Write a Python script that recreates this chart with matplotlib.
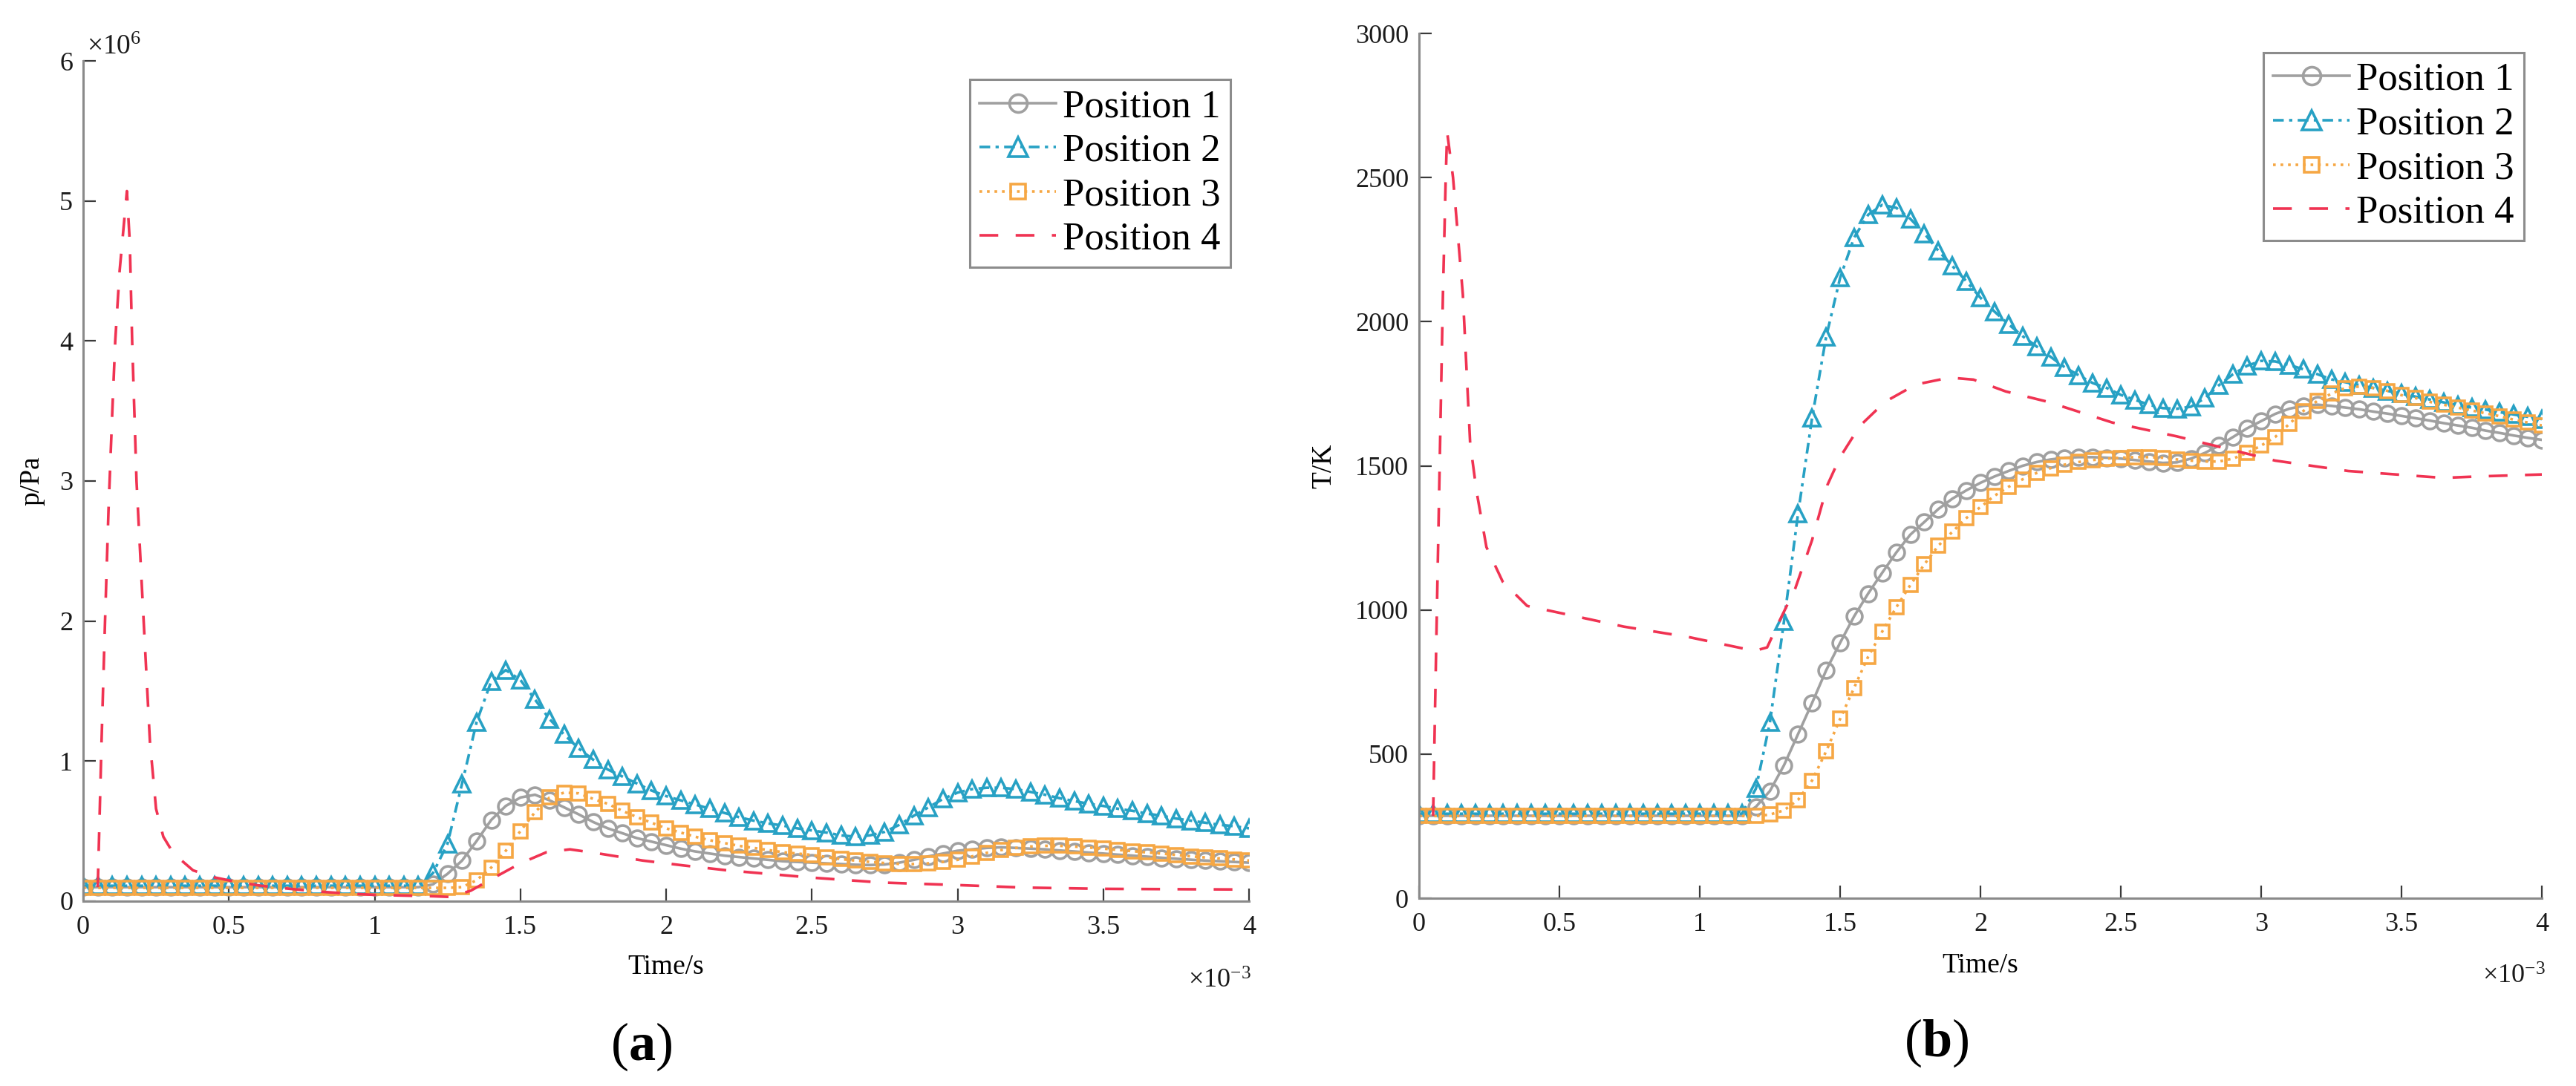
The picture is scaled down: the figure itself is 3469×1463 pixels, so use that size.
import numpy as np
import matplotlib
matplotlib.use("Agg")
import matplotlib.pyplot as plt
from matplotlib.ticker import FixedLocator, FuncFormatter

plt.rcParams['font.family'] = ['Liberation Serif', 'DejaVu Serif']
plt.rcParams['mathtext.fontset'] = 'custom'
plt.rcParams['mathtext.rm'] = 'Liberation Serif'
plt.rcParams['mathtext.bf'] = 'Liberation Serif:bold'
plt.rcParams['mathtext.it'] = 'Liberation Serif:italic'

# common time grid for positions 1-3, in units of 1e-3 s
time_ms = np.round(np.arange(0, 81) * 0.05, 3)

# ---- (a) pressure, units of 1e6 Pa ----
p_pos1 = [0.10] * 24 + [
    0.12, 0.195, 0.29, 0.43, 0.58, 0.68, 0.74, 0.76, 0.72, 0.67,
    0.62, 0.565, 0.52, 0.485, 0.45, 0.425, 0.40, 0.375, 0.355, 0.34,
    0.325, 0.315, 0.305, 0.295, 0.285, 0.28, 0.275, 0.27, 0.265, 0.26,
    0.258, 0.262, 0.275, 0.295, 0.32, 0.34, 0.36, 0.37, 0.38, 0.385,
    0.38, 0.375, 0.37, 0.362, 0.355, 0.347, 0.34, 0.332, 0.325, 0.318,
    0.31, 0.303, 0.296, 0.29, 0.285, 0.28, 0.275]
p_pos2 = [0.11] * 24 + [
    0.20, 0.41, 0.84, 1.28, 1.57, 1.65, 1.58, 1.44, 1.30, 1.19,
    1.09, 1.01, 0.94, 0.89, 0.84, 0.79, 0.75, 0.72, 0.69, 0.66,
    0.63, 0.60, 0.575, 0.555, 0.54, 0.52, 0.505, 0.49, 0.47, 0.46,
    0.47, 0.495, 0.545, 0.61, 0.67, 0.73, 0.775, 0.80, 0.81, 0.81,
    0.80, 0.78, 0.76, 0.735, 0.715, 0.695, 0.68, 0.66, 0.645, 0.625,
    0.61, 0.59, 0.575, 0.56, 0.545, 0.535, 0.52]
p_pos3 = [0.095] * 26 + [
    0.10, 0.15, 0.24, 0.36, 0.50, 0.635, 0.74, 0.775, 0.77, 0.73,
    0.695, 0.645, 0.60, 0.56, 0.52, 0.49, 0.46, 0.435, 0.415, 0.395,
    0.38, 0.365, 0.35, 0.34, 0.33, 0.315, 0.30, 0.29, 0.28, 0.272,
    0.266, 0.265, 0.27, 0.28, 0.295, 0.32, 0.345, 0.365, 0.38, 0.39,
    0.395, 0.395, 0.39, 0.383, 0.375, 0.366, 0.357, 0.348, 0.34, 0.33,
    0.32, 0.312, 0.305, 0.298, 0.29]
p4_time = [0.05, 0.055, 0.063, 0.075, 0.087, 0.1, 0.11, 0.125, 0.15, 0.16,
           0.168, 0.183, 0.2, 0.229, 0.25, 0.275, 0.31, 0.377, 0.45, 0.52,
           0.61, 0.7, 0.8, 0.9, 1.0, 1.1, 1.2, 1.26, 1.33, 1.41,
           1.5, 1.59, 1.67, 1.77, 1.92, 2.06, 2.21, 2.5, 2.74, 3.0,
           3.23, 3.5, 4.0]
p_pos4 = [0.1, 0.5, 1.14, 2.0, 2.8, 3.5, 4.0, 4.5, 5.07, 4.7,
          4.0, 3.0, 2.3, 1.14, 0.66, 0.46, 0.34, 0.22, 0.17, 0.14,
          0.11, 0.09, 0.07, 0.055, 0.045, 0.04, 0.035, 0.03, 0.075, 0.168,
          0.27, 0.35, 0.37, 0.34, 0.29, 0.255, 0.22, 0.168, 0.133, 0.115,
          0.097, 0.088, 0.083]

# ---- (b) temperature, K ----
T_pos1 = [286] * 24 + [
    317, 372, 461, 569, 677, 790, 886, 978, 1057, 1129,
    1199, 1261, 1305, 1350, 1386, 1415, 1441, 1463, 1482, 1500,
    1513, 1522, 1528, 1530, 1530, 1528, 1525, 1520, 1515, 1510,
    1512, 1525, 1545, 1570, 1600, 1630, 1655, 1680, 1698, 1708,
    1712, 1708, 1702, 1696, 1688, 1681, 1673, 1665, 1657, 1648,
    1640, 1632, 1622, 1614, 1605, 1597, 1590]
T_pos2 = [293] * 24 + [
    380, 610, 960, 1333, 1665, 1946, 2152, 2292, 2371, 2405,
    2395, 2357, 2306, 2246, 2193, 2140, 2083, 2035, 1991, 1950,
    1914, 1878, 1842, 1814, 1787, 1770, 1746, 1729, 1712, 1700,
    1698, 1705, 1735, 1780, 1818, 1847, 1864, 1862, 1850, 1835,
    1818, 1800, 1790, 1780, 1770, 1760, 1750, 1740, 1730, 1720,
    1710, 1702, 1695, 1686, 1678, 1670, 1662]
T_pos3 = [285] * 25 + [
    290, 305, 341, 408, 509, 622, 730, 838, 925, 1009,
    1086, 1158, 1223, 1271, 1319, 1357, 1396, 1427, 1453, 1475,
    1492, 1504, 1513, 1520, 1525, 1528, 1530, 1530, 1528, 1522,
    1518, 1515, 1515, 1525, 1545, 1570, 1600, 1645, 1690, 1725,
    1750, 1770, 1775, 1770, 1760, 1745, 1735, 1722, 1712, 1702,
    1692, 1682, 1672, 1660, 1650, 1640]
T4_time = [0.05, 0.06, 0.075, 0.085, 0.095, 0.1, 0.121, 0.156, 0.182, 0.205,
           0.24, 0.298, 0.385, 0.5, 0.73, 0.96, 1.195, 1.24, 1.28, 1.34,
           1.40, 1.455, 1.50, 1.57, 1.66, 1.77, 1.89, 1.975, 2.09, 2.24,
           2.47, 2.70, 2.90, 3.05, 3.31, 3.65, 3.77, 4.0]
T_pos4 = [285, 820, 1585, 2094, 2500, 2658, 2500, 2094, 1578, 1410,
          1218, 1098, 1014, 990, 942, 906, 858, 870, 954, 1074,
          1242, 1434, 1530, 1638, 1722, 1782, 1806, 1799, 1758, 1722,
          1650, 1602, 1554, 1518, 1482, 1458, 1463, 1470]

labels = ['Position 1', 'Position 2', 'Position 3', 'Position 4']
xticks = [0, 0.5, 1, 1.5, 2, 2.5, 3, 3.5, 4]

c_gray = '#a0a0a0'
c_blue = '#27a1c4'
c_orange = '#f6a744'
c_red = '#f03352'
lw = 2.6
mew = 2.6


def draw_panel(ax, t4, y1, y2, y3, y4):
    ax.plot(time_ms, y1, '-', color=c_gray, lw=lw, marker='o', ms=15,
            mfc='none', mec=c_gray, mew=mew, label=labels[0])
    ax.plot(time_ms, y2, color=c_blue, lw=lw, dashes=(4, 2, 1.2, 2),
            marker='^', ms=16, mfc='none', mec=c_blue, mew=mew, label=labels[1])
    ax.plot(time_ms, y3, color=c_orange, lw=lw, dashes=(1, 1.8),
            marker='s', ms=13, mfc='none', mec=c_orange, mew=mew, label=labels[2])
    ax.plot(t4, y4, color=c_red, lw=lw, dashes=(7, 6.5), label=labels[3])

    ax.set_xlim(0, 4)
    ax.xaxis.set_major_locator(FixedLocator(xticks))
    ax.xaxis.set_major_formatter(FuncFormatter(lambda v, pos: '%g' % v))
    for side in ['top', 'right']:
        ax.spines[side].set_visible(False)
    for side in ['left', 'bottom']:
        ax.spines[side].set_color('#8a8a8a')
        ax.spines[side].set_linewidth(2.2)
    ax.tick_params(direction='in', length=12, width=1.6, color='#3a3a3a',
                   labelsize=26, labelcolor='#1a1a1a', top=False, right=False)
    ax.tick_params(axis='x', pad=14)
    ax.tick_params(axis='y', pad=10)

    leg = ax.legend(loc='upper right', bbox_to_anchor=(0.984, 0.978),
                    borderaxespad=0, fontsize=38, handlelength=1.95,
                    handletextpad=0.17, borderpad=0.25, labelspacing=0.22,
                    fancybox=False, framealpha=1, markerscale=1.15)
    leg.get_frame().set_edgecolor('#8c8c8c')
    leg.get_frame().set_linewidth(2.2)


fig = plt.figure(figsize=(34.69, 14.63), dpi=100)
ax_a = fig.add_axes([0.03229, 0.17020, 0.45258, 0.77375])
ax_b = fig.add_axes([0.55088, 0.17293, 0.43586, 0.79631])

draw_panel(ax_a, p4_time, p_pos1, p_pos2, p_pos3, p_pos4)
ax_a.set_ylim(0, 6)
ax_a.set_yticks([0, 1, 2, 3, 4, 5, 6])
ax_a.set_xlabel('Time/s', fontsize=27, va='center')
ax_a.xaxis.set_label_coords(0.5, -0.0786)
ax_a.set_ylabel('p/Pa', fontsize=27, va='center')
ax_a.yaxis.set_label_coords(-0.044, 0.5)
ax_a.text(0.003, 1.008, r'$\times10^{6}$', transform=ax_a.transAxes,
          fontsize=27, ha='left', va='baseline', color='#1a1a1a')
ax_a.text(1.002, -0.1034, r'$\times10^{-3}$', transform=ax_a.transAxes,
          fontsize=26, ha='right', va='baseline', color='#1a1a1a')

draw_panel(ax_b, T4_time, T_pos1, T_pos2, T_pos3, T_pos4)
ax_b.set_ylim(0, 3000)
ax_b.set_yticks([0, 500, 1000, 1500, 2000, 2500, 3000])
ax_b.set_xlabel('Time/s', fontsize=27, va='center')
ax_b.xaxis.set_label_coords(0.5, -0.0781)
ax_b.set_ylabel('T/K', fontsize=27, va='center')
ax_b.yaxis.set_label_coords(-0.0847, 0.5)
ax_b.text(1.003, -0.0987, r'$\times10^{-3}$', transform=ax_b.transAxes,
          fontsize=26, ha='right', va='baseline', color='#1a1a1a')

fig.text(0.249, 0.036, r'$(\mathbf{a})$', fontsize=52, ha='center', va='center')
fig.text(0.7518, 0.0396, r'$(\mathbf{b})$', fontsize=52, ha='center', va='center')

fig.savefig('out.png', dpi=100)
